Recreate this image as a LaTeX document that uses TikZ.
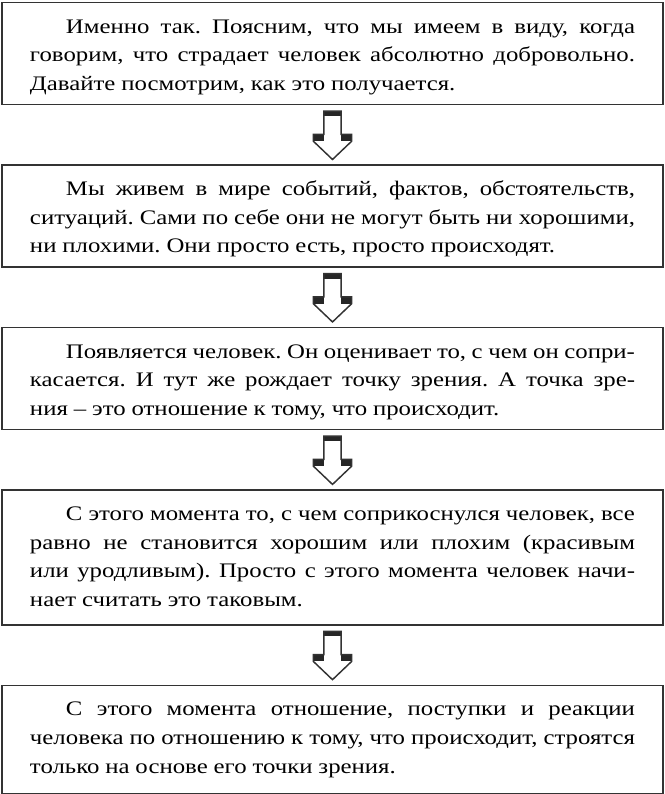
\documentclass[tikz,border=0pt]{standalone}
\usepackage{fontspec}
\setmainfont[FakeStretch=1.2, WordSpace={0.95,1.5,2.2}]{Liberation Serif}
\usetikzlibrary{positioning,calc}
\hyphenpenalty=10000
\frenchspacing
\begin{document}
\begin{tikzpicture}[x=0.75pt,y=0.75pt,
        txtbox/.style={draw=black!80, line width=1.1pt, rectangle, text width=453.75pt, inner xsep=21pt, inner ysep=0pt,
            text height=22.9pt, text depth=#1,
            align=justify, font=\fontsize{15.5pt}{21.4pt}\selectfont, execute at begin node=\hspace*{27pt}},
        node distance=44.25pt,
        pics/hollowarr/.style={code={
            \fill[black!85] (-8.7,23.8) rectangle (8.7,18.8);
            \fill[black!85] (-19.2,0.5) rectangle (-8.7,-6.2);
            \fill[black!85] (8.7,0.5) rectangle (19.2,-6.2);
            \draw[black!80, line width=1.1pt] (-8.7,23.8) -- (8.7,23.8) -- (8.7,0.5) -- (19.2,0.5) -- (19.2,-6.2) -- (0,-24.5)
                -- (-19.2,-6.2) -- (-19.2,0.5) -- (-8.7,0.5) -- cycle;
        }}]

    \useasboundingbox (0,0) rectangle (665,-794);

    \node[txtbox=53.6pt, anchor=north] (b1) at (332.5,-2)
        {Именно так. Поясним, что мы имеем в виду, когда\linebreak говорим, что страдает человек абсолютно добровольно.\linebreak Давайте посмотрим, как это получается.};
    \node[txtbox=53.6pt, below=of b1] (b2)
        {Мы живем в мире событий, фактов, обстоятельств,\linebreak ситуаций. Сами по себе они не могут быть ни хорошими,\linebreak ни плохими. Они просто есть, просто происходят.};
    \node[txtbox=53.6pt, below=of b2] (b3)
        {Появляется человек. Он оценивает то, с чем он сопри-\linebreak касается. И тут же рождает точку зрения. А точка зре-\linebreak ния – это отношение к тому, что происходит.};
    \node[txtbox=78.2pt, below=of b3] (b4)
        {С этого момента то, с чем соприкоснулся человек, все\linebreak равно не становится хорошим или плохим (красивым\linebreak или уродливым). Просто с этого момента человек начи-\linebreak нает считать это таковым.};
    \node[txtbox=58.4pt, below=of b4] (b5)
        {С этого момента отношение, поступки и реакции\linebreak человека по отношению к тому, что происходит, строятся\linebreak только на основе его точки зрения.};

    \foreach \a/\b in {b1/b2,b2/b3,b3/b4,b4/b5}
        \pic at ($(\a.south)!0.5!(\b.north)$) {hollowarr};

\end{tikzpicture}
\end{document}
